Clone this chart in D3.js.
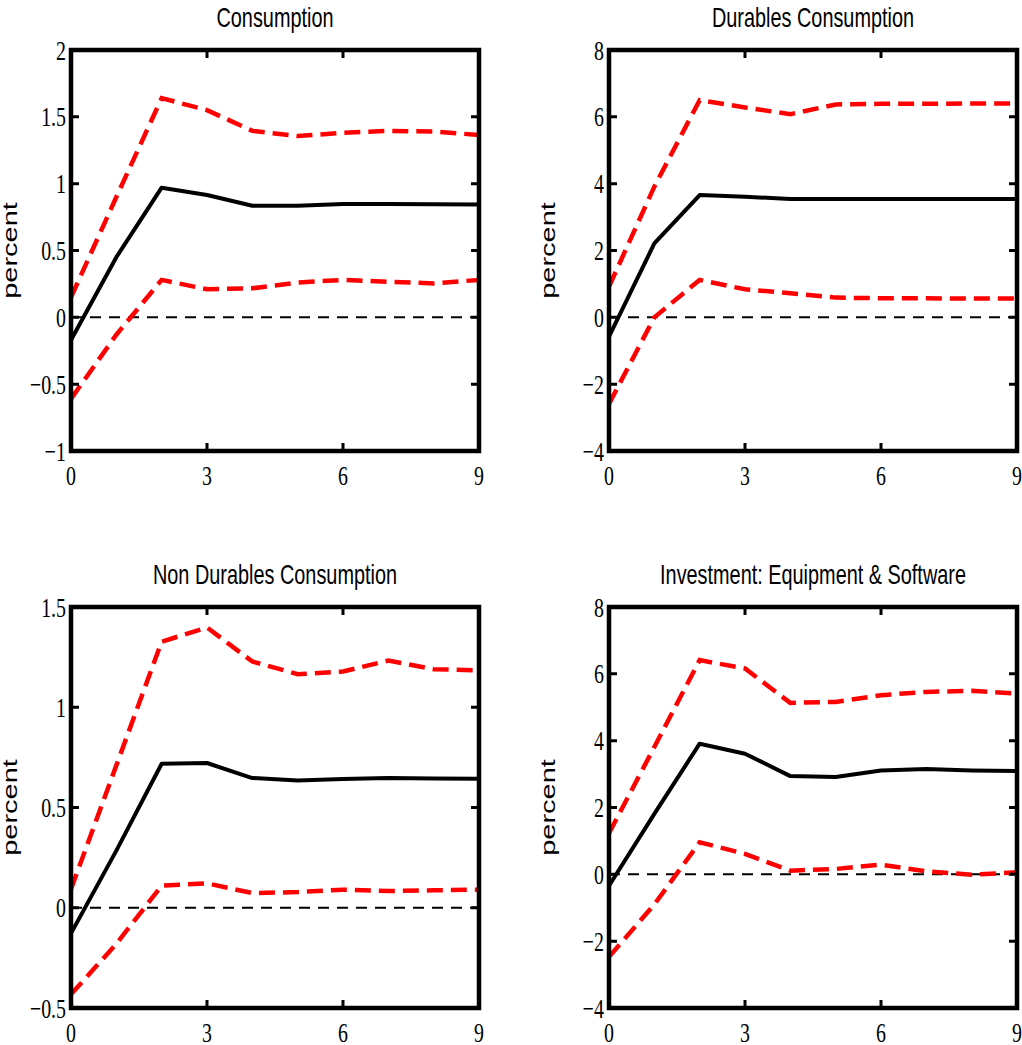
<!DOCTYPE html>
<html>
<head>
<meta charset="utf-8">
<script src="https://cdn.jsdelivr.net/npm/d3@7"></script>
<style>
  body { margin: 0; background: #fff; }
  svg { display: block; }
</style>
</head>
<body>
<svg width="1022" height="1045"></svg>
<script>
// horizon (quarters) and tick values
var horizon = [0, 1, 2, 3, 4, 5, 6, 7, 8, 9];
var xTicks = [0, 3, 6, 9];

var titles = ["Consumption", "Durables Consumption", "Non Durables Consumption", "Investment: Equipment & Software"];

// consumption
var consMean  = [-0.17, 0.45, 0.97, 0.915, 0.835, 0.835, 0.848, 0.848, 0.846, 0.845];
var consUpper = [0.15, 0.9, 1.64, 1.55, 1.395, 1.356, 1.38, 1.395, 1.39, 1.364];
var consLower = [-0.61, -0.13, 0.28, 0.21, 0.217, 0.26, 0.28, 0.266, 0.254, 0.28];
var consTicks = [-1, -0.5, 0, 0.5, 1, 1.5, 2];

// durables
var durMean  = [-0.58, 2.21, 3.66, 3.61, 3.54, 3.54, 3.54, 3.54, 3.54, 3.54];
var durUpper = [0.92, 3.91, 6.5, 6.28, 6.08, 6.37, 6.39, 6.39, 6.4, 6.4];
var durLower = [-2.59, 0.0, 1.12, 0.84, 0.72, 0.59, 0.57, 0.57, 0.56, 0.56];
var durTicks = [-4, -2, 0, 2, 4, 6, 8];

// non durables
var ndurMean  = [-0.128, 0.285, 0.718, 0.722, 0.647, 0.635, 0.642, 0.647, 0.645, 0.643];
var ndurUpper = [0.093, 0.71, 1.327, 1.398, 1.228, 1.165, 1.178, 1.233, 1.19, 1.183];
var ndurLower = [-0.432, -0.18, 0.11, 0.122, 0.073, 0.078, 0.09, 0.083, 0.087, 0.09];
var ndurTicks = [-0.5, 0, 0.5, 1, 1.5];

// investment
var invMean  = [-0.34, 1.81, 3.91, 3.61, 2.94, 2.91, 3.11, 3.15, 3.11, 3.09];
var invUpper = [1.23, 3.81, 6.41, 6.16, 5.13, 5.16, 5.36, 5.46, 5.49, 5.41];
var invLower = [-2.47, -0.9, 0.96, 0.61, 0.11, 0.16, 0.29, 0.09, -0.01, 0.06];
var invTicks = [-4, -2, 0, 2, 4, 6, 8];

var svg = d3.select("svg");

var sx = 0.71;   // text is squeezed horizontally in the original figure
var w = 408, h = 401;

var panels = [
  {left: 71,  top: 50,  title: titles[0], mean: consMean, upper: consUpper, lower: consLower, ticks: consTicks},
  {left: 609, top: 50,  title: titles[1], mean: durMean,  upper: durUpper,  lower: durLower,  ticks: durTicks},
  {left: 71,  top: 607, title: titles[2], mean: ndurMean, upper: ndurUpper, lower: ndurLower, ticks: ndurTicks},
  {left: 609, top: 607, title: titles[3], mean: invMean,  upper: invUpper,  lower: invLower,  ticks: invTicks}
];

function fmt(v) { return String(v).replace("-", "\u2212"); }

panels.forEach(function(p) {
  var g = svg.append("g").attr("transform", "translate(" + p.left + "," + p.top + ")");

  var x = d3.scaleLinear().domain([0, 9]).range([0, w]);
  var y = d3.scaleLinear().domain(d3.extent(p.ticks)).range([h, 0]);

  var line = d3.line()
      .x(function(d, i) { return x(horizon[i]); })
      .y(function(d) { return y(d); });

  // zero line
  g.append("line")
      .attr("x1", x(0)).attr("x2", x(9))
      .attr("y1", y(0)).attr("y2", y(0))
      .attr("stroke", "#000")
      .attr("stroke-width", 2)
      .attr("stroke-dasharray", "11,8");

  [p.upper, p.lower].forEach(function(band) {
    g.append("path")
        .datum(band)
        .attr("d", line)
        .attr("fill", "none")
        .attr("stroke", "#ff0000")
        .attr("stroke-width", 4.5)
        .attr("stroke-dasharray", "16,8");
  });

  g.append("path")
      .datum(p.mean)
      .attr("d", line)
      .attr("fill", "none")
      .attr("stroke", "#000")
      .attr("stroke-width", 4)
      .attr("stroke-linejoin", "round");

  // inward ticks on all four sides
  g.selectAll(".ytick").data(p.ticks).enter().append("path")
      .attr("class", "ytick")
      .attr("d", function(d) { return "M0," + y(d) + "h8M" + w + "," + y(d) + "h-8"; })
      .attr("stroke", "#000").attr("stroke-width", 3);
  g.selectAll(".xtick").data(xTicks).enter().append("path")
      .attr("class", "xtick")
      .attr("d", function(d) { return "M" + x(d) + ",0v8M" + x(d) + "," + h + "v-8"; })
      .attr("stroke", "#000").attr("stroke-width", 3);

  // frame
  g.append("rect")
      .attr("width", w).attr("height", h)
      .attr("fill", "none")
      .attr("stroke", "#000")
      .attr("stroke-width", 4.5);

  // tick labels
  g.selectAll(".ylab").data(p.ticks).enter().append("text")
      .attr("class", "ylab")
      .attr("transform", function(d) { return "translate(-5," + y(d) + ") scale(" + sx + ",1)"; })
      .attr("dy", "0.34em")
      .attr("text-anchor", "end")
      .style("font-family", "'Liberation Serif', 'Times New Roman', serif")
      .style("font-size", "28px")
      .text(fmt);
  g.selectAll(".xlab").data(xTicks).enter().append("text")
      .attr("class", "xlab")
      .attr("transform", function(d) { return "translate(" + x(d) + "," + (h + 34) + ") scale(" + sx + ",1)"; })
      .attr("text-anchor", "middle")
      .style("font-family", "'Liberation Serif', 'Times New Roman', serif")
      .style("font-size", "28px")
      .text(fmt);

  // title
  g.append("text")
      .attr("transform", "translate(" + (w / 2) + ",-23) scale(" + sx + ",1)")
      .attr("text-anchor", "middle")
      .style("font-family", "'Liberation Sans', Arial, sans-serif")
      .style("font-size", "28px")
      .text(p.title);

  // y label
  g.append("text")
      .attr("transform", "translate(-54," + (h / 2) + ") scale(" + sx + ",1) rotate(-90)")
      .attr("text-anchor", "middle")
      .style("font-family", "'Liberation Sans', Arial, sans-serif")
      .style("font-size", "29px")
      .text("percent");
});
</script>
</body>
</html>
